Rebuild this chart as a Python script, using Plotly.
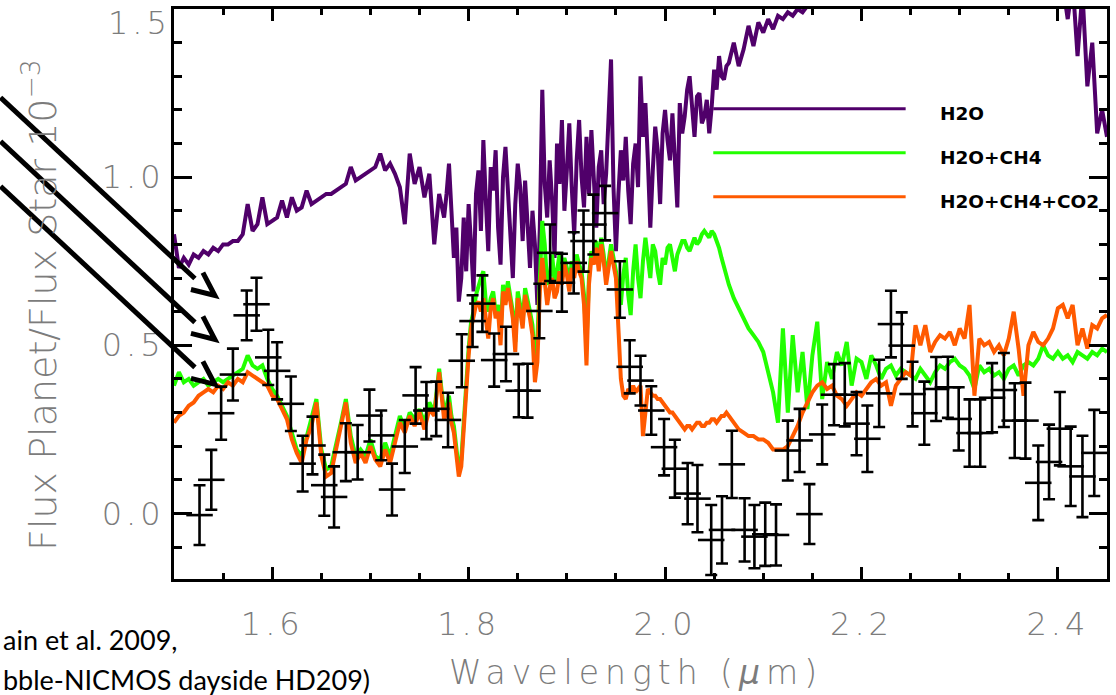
import plotly.graph_objects as go

# ---------------- data ----------------
# model wavelength grid: 0.005 um sampling, finer (0.0025 um) across the noisy 1.78-2.06 um band
wl = ([round(1.5 + 0.005 * i, 4) for i in range(56)]
      + [round(1.7775 + 0.0025 * i, 4) for i in range(115)]
      + [round(2.065 + 0.005 * i, 4) for i in range(78)])

h2o = [
    # 1.500 - 1.775
    0.83, 0.73, 0.76, 0.74, 0.77, 0.76, 0.78, 0.77, 0.79, 0.78,
    0.80, 0.80, 0.81, 0.81, 0.83, 0.92, 0.84, 0.86, 0.94, 0.86,
    0.87, 0.88, 0.93, 0.88, 0.94, 0.90, 0.91, 0.96, 0.92, 0.93,
    0.94, 0.95, 0.95, 0.96, 0.97, 0.98, 1.03, 0.99, 1.00, 1.01,
    1.02, 1.03, 1.07, 1.02, 1.04, 1.01, 0.97, 0.86, 1.07, 0.98,
    1.03, 0.94, 1.01, 0.80, 0.95, 0.88,
    # 1.7775 - 2.0625
    0.95, 1.04, 0.90, 0.76, 0.85, 0.63, 0.70, 0.88, 0.72, 0.92,
    0.80, 0.66, 0.95, 1.02, 0.84, 1.11, 0.93, 0.78, 1.03, 0.96,
    1.08, 0.85, 0.74, 1.00, 1.09, 0.95, 0.82, 0.70, 0.92, 1.04,
    0.97, 0.81, 0.99, 0.87, 0.73, 0.90, 0.80, 0.62, 0.85, 1.26,
    0.98, 0.88, 1.05, 0.93, 0.76, 1.10, 0.98, 1.17, 0.90, 1.02,
    1.16, 0.97, 0.83, 1.05, 1.17, 1.00, 0.91, 1.12, 0.95, 1.14,
    0.99, 0.85, 1.03, 1.08, 0.92, 1.01, 1.18, 1.35, 0.97, 0.78,
    0.95, 1.08, 0.99, 1.12, 0.96, 0.86, 1.04, 1.10, 0.97, 1.30,
    1.12, 1.22, 1.05, 0.85, 1.02, 1.15, 1.08, 0.92, 1.13, 1.20,
    1.11, 1.05, 1.19, 1.02, 0.91, 1.22, 1.13, 1.18, 1.26, 1.30,
    1.19, 1.12, 1.24, 1.25, 1.16, 1.18, 1.23, 1.13, 1.21, 1.32,
    1.26, 1.36, 1.30, 1.29, 1.33,
    # 2.065 - 2.450
    1.34, 1.40, 1.33, 1.38, 1.45, 1.39, 1.46,
    1.43, 1.47, 1.44, 1.48, 1.47, 1.49, 1.48, 1.50, 1.49, 1.51,
    1.52, 1.53, 1.55, 1.56, 1.57, 1.59, 1.60, 1.61, 1.63, 1.64,
    1.66, 1.67, 1.69, 1.70, 1.71, 1.73, 1.74, 1.75, 1.76, 1.77,
    1.78, 1.79, 1.80, 1.80, 1.81, 1.81, 1.82, 1.82, 1.82, 1.83,
    1.83, 1.83, 1.82, 1.82, 1.81, 1.81, 1.80, 1.79, 1.78, 1.77,
    1.76, 1.75, 1.73, 1.72, 1.70, 1.69, 1.67, 1.65, 1.63, 1.61,
    1.59, 1.57, 1.47, 1.58, 1.36, 1.55, 1.27, 1.40, 1.13, 1.20,
    1.12,
]

h2o_ch4 = [
    # 1.500 - 1.775
    0.38, 0.42, 0.39, 0.40, 0.38, 0.39, 0.40, 0.38, 0.39, 0.40,
    0.39, 0.40, 0.41, 0.42, 0.43, 0.47, 0.44, 0.43, 0.44, 0.40,
    0.37, 0.35, 0.32, 0.29, 0.24, 0.19, 0.17, 0.23, 0.28, 0.34,
    0.19, 0.13, 0.14, 0.20, 0.27, 0.34, 0.23, 0.17, 0.19, 0.17,
    0.22, 0.17, 0.16, 0.21, 0.17, 0.23, 0.29, 0.25, 0.30, 0.28,
    0.31, 0.27, 0.33, 0.30, 0.43, 0.30,
    # 1.7775 - 2.0625
    0.32, 0.35, 0.29, 0.26, 0.18, 0.13, 0.16, 0.28, 0.40, 0.49,
    0.57, 0.60, 0.65, 0.68, 0.70, 0.72, 0.63, 0.60, 0.64, 0.66,
    0.60, 0.62, 0.53, 0.68, 0.64, 0.69, 0.65, 0.60, 0.51, 0.66,
    0.62, 0.57, 0.67, 0.64, 0.60, 0.56, 0.45, 0.52, 0.72, 0.87,
    0.80, 0.68, 0.70, 0.77, 0.69, 0.72, 0.77, 0.71, 0.76, 0.73,
    0.68, 0.75, 0.72, 0.77, 0.74, 0.72, 0.65, 0.50, 0.70, 0.78,
    0.76, 0.81, 0.74, 0.82, 0.77, 0.70, 0.75, 0.80, 0.76, 0.72,
    0.66, 0.62, 0.71, 0.76, 0.65, 0.59, 0.72, 0.80, 0.70, 0.64,
    0.75, 0.82, 0.76, 0.70, 0.80, 0.78, 0.72, 0.68, 0.76, 0.74,
    0.79, 0.80, 0.76, 0.72, 0.77, 0.79, 0.81, 0.81, 0.79, 0.78,
    0.80, 0.82, 0.80, 0.81, 0.83, 0.84, 0.83, 0.82, 0.84, 0.83,
    0.81, 0.79, 0.76, 0.73, 0.70,
    # 2.065 - 2.450
    0.68, 0.64, 0.61, 0.58, 0.55, 0.53, 0.51,
    0.48, 0.42, 0.36, 0.27, 0.55, 0.30, 0.53, 0.36, 0.48, 0.31,
    0.47, 0.57, 0.34, 0.45, 0.40, 0.48, 0.44, 0.51, 0.38, 0.46,
    0.45, 0.40, 0.47, 0.44, 0.40, 0.43, 0.44, 0.41, 0.43, 0.42,
    0.41, 0.40, 0.43, 0.41, 0.39, 0.42, 0.44, 0.43, 0.45, 0.46,
    0.44, 0.43, 0.41, 0.37, 0.44, 0.42, 0.43, 0.41, 0.42, 0.40,
    0.43, 0.44, 0.41, 0.44, 0.45, 0.44, 0.46, 0.50, 0.47, 0.46,
    0.48, 0.46, 0.47, 0.45, 0.48, 0.47, 0.46, 0.48, 0.47, 0.49,
    0.48,
]

h2o_ch4_co2 = [
    # 1.500 - 1.775
    0.27, 0.29, 0.30, 0.32, 0.33, 0.35, 0.36, 0.37, 0.36, 0.38,
    0.37, 0.39, 0.38, 0.40, 0.39, 0.42, 0.41, 0.40, 0.39, 0.38,
    0.35, 0.34, 0.31, 0.28, 0.22, 0.18, 0.15, 0.22, 0.26, 0.33,
    0.17, 0.11, 0.12, 0.19, 0.25, 0.33, 0.21, 0.15, 0.18, 0.15,
    0.20, 0.16, 0.14, 0.19, 0.15, 0.21, 0.27, 0.24, 0.29, 0.26,
    0.30, 0.25, 0.31, 0.29, 0.42, 0.28,
    # 1.7775 - 2.0625
    0.30, 0.33, 0.27, 0.24, 0.16, 0.11, 0.14, 0.26, 0.38, 0.47,
    0.55, 0.58, 0.62, 0.63, 0.60, 0.64, 0.57, 0.52, 0.61, 0.64,
    0.58, 0.60, 0.50, 0.66, 0.62, 0.67, 0.63, 0.58, 0.48, 0.64,
    0.60, 0.55, 0.65, 0.62, 0.58, 0.53, 0.39, 0.45, 0.66, 0.76,
    0.70, 0.62, 0.67, 0.70, 0.64, 0.66, 0.72, 0.68, 0.74, 0.71,
    0.66, 0.73, 0.70, 0.75, 0.72, 0.70, 0.62, 0.44, 0.68, 0.76,
    0.74, 0.79, 0.72, 0.80, 0.75, 0.68, 0.73, 0.78, 0.74, 0.70,
    0.55, 0.40, 0.35, 0.34, 0.37, 0.36, 0.38, 0.36, 0.37, 0.38,
    0.23, 0.30, 0.37, 0.36, 0.35, 0.35, 0.34, 0.34, 0.33, 0.32,
    0.31, 0.30, 0.30, 0.29, 0.28, 0.27, 0.26, 0.25, 0.26, 0.26,
    0.25, 0.26, 0.27, 0.27, 0.26, 0.26, 0.27, 0.27, 0.28, 0.28,
    0.27, 0.28, 0.29, 0.29, 0.30,
    # 2.065 - 2.450
    0.29, 0.27, 0.25, 0.24, 0.23, 0.23, 0.22,
    0.22, 0.21, 0.19, 0.19, 0.19, 0.20, 0.23, 0.26, 0.30, 0.33,
    0.36, 0.38, 0.39, 0.37, 0.38, 0.35, 0.34, 0.32, 0.34, 0.36,
    0.35, 0.37, 0.39, 0.40, 0.38, 0.39, 0.32, 0.38, 0.40, 0.42,
    0.41, 0.56, 0.50, 0.56, 0.48, 0.51, 0.53, 0.52, 0.54, 0.50,
    0.55, 0.52, 0.62, 0.35, 0.52, 0.50, 0.51, 0.48, 0.50, 0.47,
    0.52, 0.60, 0.49, 0.35, 0.50, 0.54, 0.51, 0.50, 0.52, 0.55,
    0.61, 0.62, 0.58, 0.62, 0.50, 0.55, 0.49, 0.56, 0.55, 0.58,
    0.59,
]

obs_wl = [
    1.526, 1.538, 1.548, 1.560, 1.574, 1.584, 1.596, 1.605, 1.619, 1.631,
    1.641, 1.653, 1.663, 1.675, 1.687, 1.699, 1.711, 1.722, 1.735, 1.746,
    1.757, 1.767, 1.779, 1.793, 1.804, 1.814, 1.826, 1.838, 1.851, 1.860,
    1.872, 1.883, 1.895, 1.907, 1.917, 1.927, 1.939, 1.954, 1.964, 1.975,
    1.986, 1.999, 2.010, 2.023, 2.033, 2.047, 2.058, 2.068, 2.081, 2.091,
    2.102, 2.113, 2.125, 2.137, 2.147, 2.160, 2.172, 2.183, 2.195, 2.206,
    2.218, 2.230, 2.241, 2.252, 2.264, 2.276, 2.288, 2.299, 2.310, 2.321,
    2.333, 2.345, 2.356, 2.367, 2.380, 2.391, 2.402, 2.413, 2.425, 2.437,
]
obs_flux = [
    -0.005, 0.100, 0.298, 0.413, 0.589, 0.622, 0.464, 0.424, 0.326, 0.148,
    0.202, 0.084, 0.049, 0.182, 0.182, 0.291, 0.232, 0.071, 0.199, 0.351,
    0.306, 0.311, 0.278, 0.454, 0.572, 0.624, 0.456, 0.474, 0.365, 0.365,
    0.602, 0.775, 0.686, 0.745, 0.810, 0.859, 0.893, 0.666, 0.436, 0.395,
    0.306, 0.197, 0.133, 0.059, 0.044, -0.079, -0.049, 0.146, -0.049, -0.069,
    -0.062, -0.064, 0.187, 0.217, -0.002, 0.235, 0.353, 0.353, 0.267, 0.222,
    0.357, 0.563, 0.499, 0.355, 0.298, 0.370, 0.375, 0.281, 0.239, 0.239,
    0.344, 0.367, 0.276, 0.276, 0.091, 0.153, 0.252, 0.140, 0.110, 0.180,
]
obs_err = [
    0.089, 0.089, 0.079, 0.077, 0.074, 0.079, 0.082, 0.085, 0.081, 0.083,
    0.086, 0.091, 0.091, 0.086, 0.081, 0.077, 0.074, 0.077, 0.079, 0.084,
    0.085, 0.081, 0.081, 0.079, 0.077, 0.084, 0.079, 0.081, 0.079, 0.080,
    0.081, 0.084, 0.086, 0.091, 0.091, 0.089, 0.081, 0.084, 0.079, 0.074,
    0.072, 0.084, 0.086, 0.091, 0.100, 0.104, 0.100, 0.100, 0.094, 0.094,
    0.094, 0.091, 0.089, 0.094, 0.089, 0.089, 0.091, 0.094, 0.094, 0.099,
    0.100, 0.099, 0.099, 0.096, 0.094, 0.095, 0.091, 0.094, 0.100, 0.100,
    0.103, 0.110, 0.111, 0.113, 0.111, 0.111, 0.109, 0.118, 0.121, 0.128,
]
obs_wl_halfwidth = 0.0135

x_ticks = [1.6, 1.8, 2.0, 2.2, 2.4]
x_ticktext = ["1.6", "1.8", "2.0", "2.2", "2.4"]
y_ticks = [0.0, 0.5, 1.0]
y_ticktext = ["0.0", "0.5", "1.0"]

legend_names = ["H2O", "H2O+CH4", "H2O+CH4+CO2"]

# ---------------- style ----------------
PURPLE = "#50006a"
GREEN = "#22ff00"
ORANGE = "#ff5a00"
GRAY = "#7c7c7c"
W, H = 1116, 695
L, R, T, B = 174, 6, 8, 116
PW, PH = W - L - R, H - T - B


def px(p):  # page pixel x -> paper x
    return (p - L) / PW


def py(p):  # page pixel y -> paper y
    return (H - B - p) / PH


fig = go.Figure()
for ys, col in [(h2o, PURPLE), (h2o_ch4, GREEN), (h2o_ch4_co2, ORANGE)]:
    fig.add_trace(go.Scatter(x=wl, y=ys, mode="lines",
                             line=dict(color=col, width=4),
                             showlegend=False, hoverinfo="skip"))

fig.add_trace(go.Scatter(
    x=obs_wl, y=obs_flux, mode="markers",
    marker=dict(size=1, color="black"),
    error_y=dict(type="data", array=obs_err, color="black", thickness=2.6, width=6),
    error_x=dict(type="constant", value=obs_wl_halfwidth, color="black", thickness=2.6, width=0),
    showlegend=False))

tickfont = dict(family="DejaVu Sans", size=32, color=GRAY, weight=300)

fig.update_layout(
    width=W, height=H, margin=dict(l=L, r=R, t=T, b=B),
    paper_bgcolor="white", plot_bgcolor="white", showlegend=False,
    xaxis=dict(range=[1.5, 2.45], tickmode="array", tickvals=x_ticks, ticktext=x_ticktext,
               ticks="inside", ticklen=12, tickwidth=2.5, tickcolor="black",
               showline=True, linewidth=3, linecolor="black", mirror="ticks",
               showgrid=False, zeroline=False, tickfont=tickfont, ticklabelstandoff=15,
               minor=dict(tickmode="linear", tick0=1.5, dtick=0.05, ticks="inside",
                          ticklen=6, tickwidth=2.5, tickcolor="black", showgrid=False)),
    yaxis=dict(range=[-0.195, 1.5], tickmode="array", tickvals=y_ticks, ticktext=y_ticktext,
               ticks="inside", ticklen=18, tickwidth=2.5, tickcolor="black",
               showline=True, linewidth=3, linecolor="black", mirror="ticks",
               showgrid=False, zeroline=False, tickfont=tickfont, ticklabelstandoff=0,
               minor=dict(tickmode="linear", tick0=0, dtick=0.1, ticks="inside",
                          ticklen=8, tickwidth=2.5, tickcolor="black", showgrid=False)),
)

annotations = [
    dict(text="1.5", xref="paper", yref="y", x=0, y=1.5, xanchor="right", yanchor="middle",
         xshift=-7, yshift=-14, showarrow=False, font=tickfont),
    dict(text="Flux Planet/Flux Star 10<sup>−3</sup>", xref="paper", yref="paper",
         x=px(40), y=py(304), xanchor="center", yanchor="middle", textangle=-90,
         showarrow=False, font=dict(family="DejaVu Sans", size=38, color=GRAY, weight=300)),
    dict(text="Wavelength (<i>μ</i>m)", xref="paper", yref="paper",
         x=px(637), y=py(673), xanchor="center", yanchor="middle", showarrow=False,
         font=dict(family="DejaVu Sans", size=33, color=GRAY, weight=300)),
    dict(text="ain et al. 2009,", xref="paper", yref="paper", x=px(0), y=py(640),
         xanchor="left", yanchor="middle", showarrow=False,
         font=dict(family="Lato", size=27, color="black")),
    dict(text="bble-NICMOS dayside HD209)", xref="paper", yref="paper", x=px(0), y=py(680),
         xanchor="left", yanchor="middle", showarrow=False,
         font=dict(family="Lato", size=27, color="black")),
]

shapes = []
# legend (drawn by hand, long sample lines)
for name, col, ly in zip(legend_names, [PURPLE, GREEN, ORANGE], [108, 152, 196]):
    shapes.append(dict(type="line", xref="paper", yref="paper",
                       x0=px(715), x1=px(908), y0=py(ly), y1=py(ly),
                       line=dict(color=col, width=3)))
    annotations.append(dict(text=name, xref="paper", yref="paper", x=px(940), y=py(ly + 5),
                            xanchor="left", yanchor="middle", showarrow=False,
                            font=dict(family="DejaVu Sans", size=18.5, color="black", weight="bold")))

# three pointer arrows from the slide
for y_end in [278, 322, 367]:
    shapes.append(dict(type="line", xref="paper", yref="paper",
                       x0=px(0), y0=py(y_end - 195 * 0.93), x1=px(195), y1=py(y_end),
                       line=dict(color="black", width=5)))
    ax, ay = 215, y_end + 17
    path = (f"M {px(ax - 12)},{py(ay - 23)} L {px(ax)},{py(ay)} "
            f"L {px(ax - 24)},{py(ay - 6)}")
    shapes.append(dict(type="path", xref="paper", yref="paper", path=path,
                       line=dict(color="black", width=5)))

fig.update_layout(annotations=annotations, shapes=shapes)

post = """
var st = document.createElement('style');
st.textContent = '.xtick text, .ytick text, .annotation[data-index="0"] text { letter-spacing: 4px; }'
  + ' .annotation[data-index="2"] text { letter-spacing: 6px; }';
document.head.appendChild(st);
"""
fig.write_html("out.html", post_script=post)
